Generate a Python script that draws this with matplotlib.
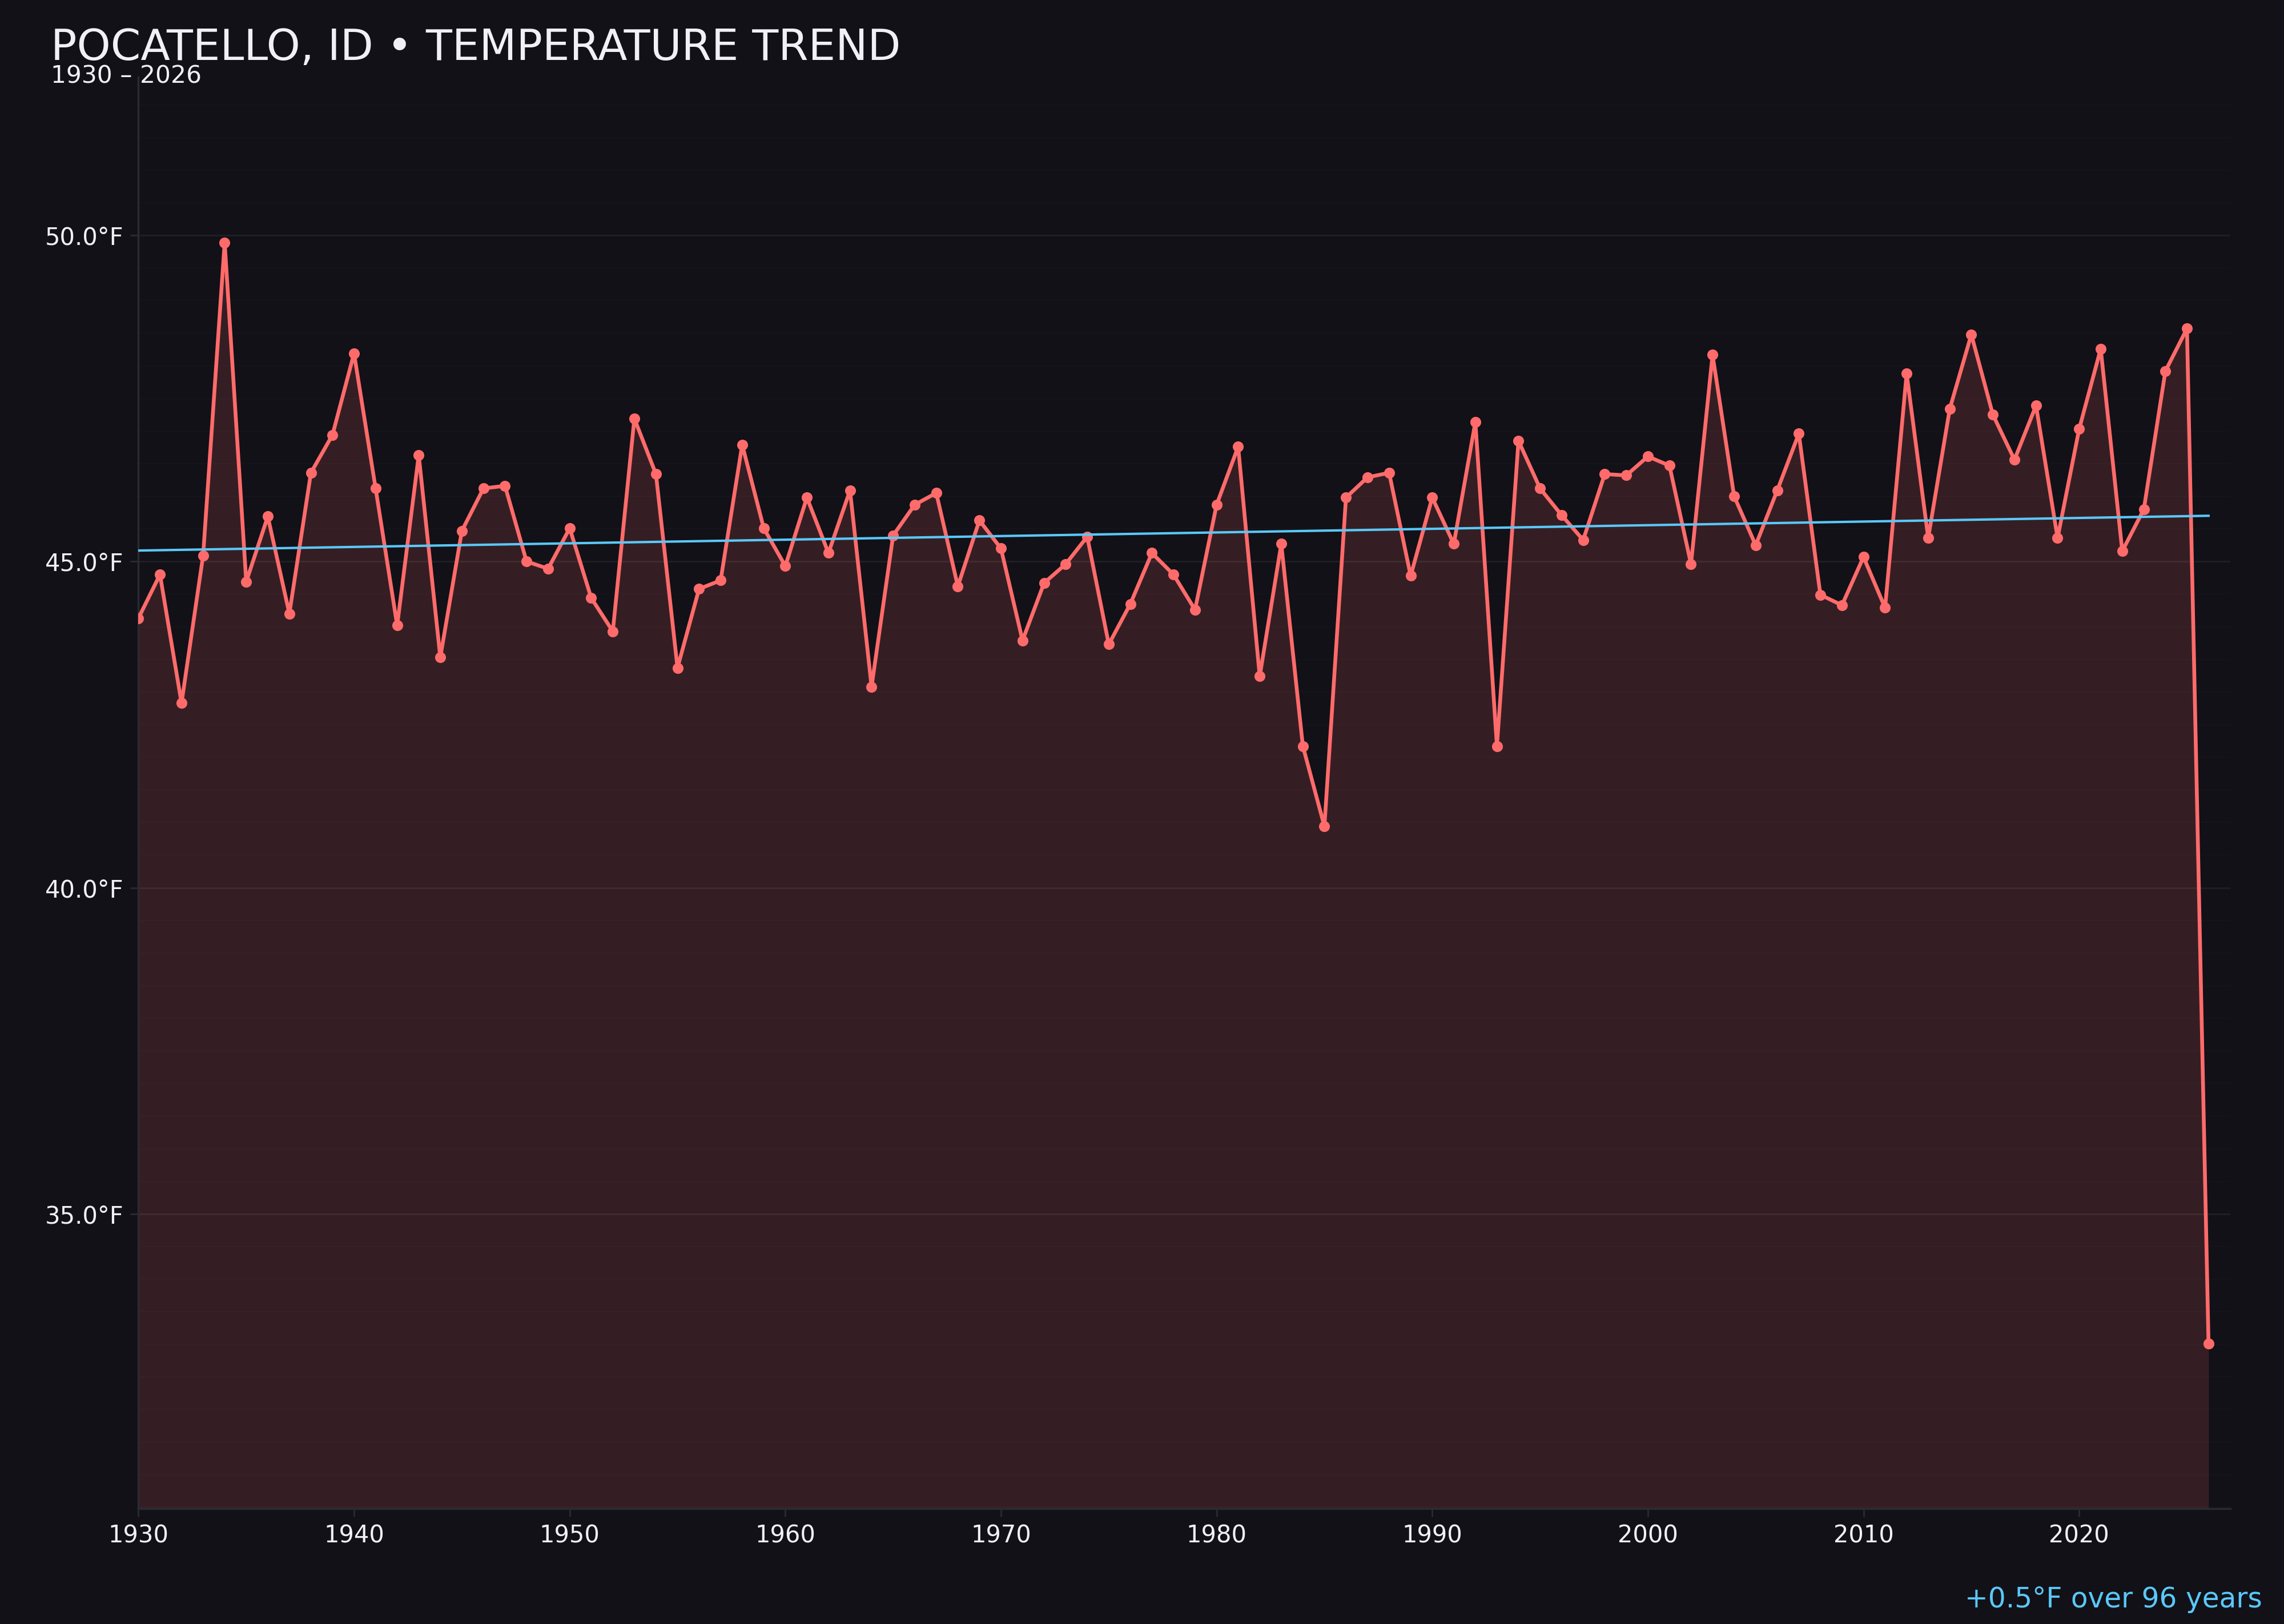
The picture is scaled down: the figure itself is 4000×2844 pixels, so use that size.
"""Pocatello annual mean temperature with linear trend, dark theme."""

import matplotlib

matplotlib.use("Agg")
import matplotlib.pyplot as plt
import numpy as np
from matplotlib.ticker import FuncFormatter, MultipleLocator

BG = "#121117"
LINE = "#ff6b6b"
TREND = "#5ac8fa"
TEXT = "#f0f0f5"
SPINE = "#2a2a33"

years = np.arange(1930, 2027)
temps = [
    44.13, 44.80, 42.83, 45.09, 49.89, 44.69, 45.69, 44.20, 46.36, 46.94,  # 1930s
    48.19, 46.12, 44.02, 46.63, 43.53, 45.47, 46.12, 46.16, 45.00, 44.89,  # 1940s
    45.51, 44.44, 43.93, 47.19, 46.34, 43.37, 44.58, 44.71, 46.79, 45.51,  # 1950s
    44.93, 45.98, 45.13, 46.09, 43.08, 45.40, 45.87, 46.05, 44.62, 45.63,  # 1960s
    45.20, 43.79, 44.67, 44.96, 45.38, 43.73, 44.35, 45.13, 44.80, 44.26,  # 1970s
    45.87, 46.76, 43.24, 45.27, 42.17, 40.94, 45.98, 46.29, 46.36, 44.78,  # 1980s
    45.98, 45.27, 47.14, 42.17, 46.85, 46.12, 45.71, 45.33, 46.34, 46.32,  # 1990s
    46.61, 46.47, 44.96, 48.17, 46.00, 45.25, 46.09, 46.96, 44.49, 44.33,  # 2000s
    45.07, 44.29, 47.88, 45.36, 47.34, 48.48, 47.25, 46.56, 47.39, 45.36,  # 2010s
    47.03, 48.26, 45.16, 45.80, 47.92, 48.57, 33.01,                       # 2020s
]
temps = np.array(temps)

# linear trend
slope, intercept = np.polyfit(years, temps, 1)
trend = slope * years + intercept

fig = plt.figure(figsize=(16, 11.376), dpi=250, facecolor=BG)
ax = fig.add_axes([0.0606, 0.0709, 0.9158, 0.8815])
ax.set_facecolor(BG)

span = temps.max() - temps.min()
ymin = temps.min() - 0.15 * span
ymax = temps.max() + 0.15 * span

ax.fill_between(years, temps, ymin, color=LINE, alpha=0.15, linewidth=0, zorder=1)
ax.plot(years, temps, color=LINE, lw=1.9, marker="o", ms=4.5, zorder=3)
ax.plot(years, trend, color=TREND, lw=1.2, zorder=4)

ax.set_xlim(1930, 2027)
ax.set_ylim(ymin, ymax)

ax.xaxis.set_major_locator(MultipleLocator(10))
ax.yaxis.set_major_locator(MultipleLocator(5))
ax.yaxis.set_minor_locator(MultipleLocator(0.5))
ax.yaxis.set_major_formatter(FuncFormatter(lambda v, _: f"{v:.1f}°F"))

ax.grid(axis="y", which="major", color="#ffffff", alpha=0.06, lw=0.9, zorder=0)
ax.grid(axis="y", which="minor", color="#ffffff", alpha=0.014, lw=0.6, zorder=0)
ax.tick_params(axis="y", which="minor", length=0)
ax.tick_params(which="major", colors=SPINE, labelcolor=TEXT, labelsize=12, length=4)

for side in ("top", "right"):
    ax.spines[side].set_visible(False)
for side in ("left", "bottom"):
    ax.spines[side].set_color(SPINE)
    ax.spines[side].set_linewidth(1.0)

fig.text(0.0223, 0.9632, "POCATELLO, ID • TEMPERATURE TREND", color=TEXT,
         fontsize=21.7, va="baseline", ha="left")
fig.text(0.0223, 0.9489, "1930 – 2026", color=TEXT, fontsize=12.2,
         va="baseline", ha="left")
fig.text(0.9904, 0.0102, "+0.5°F over 96 years", color=TREND, fontsize=14,
         va="baseline", ha="right")

fig.savefig("out.png", dpi=250, facecolor=BG)
